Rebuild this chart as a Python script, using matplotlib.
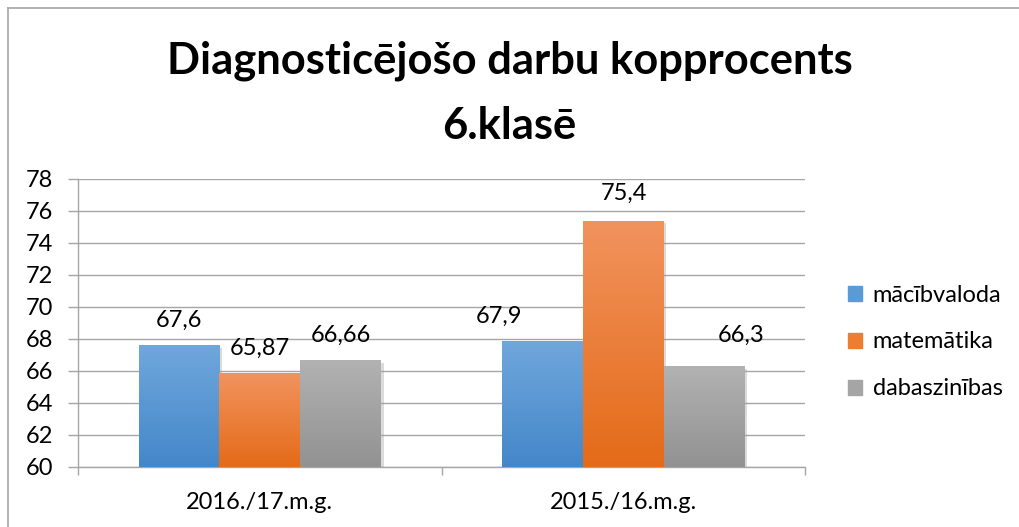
import matplotlib.pyplot as plt
import numpy as np
from matplotlib.lines import Line2D
from matplotlib.patches import Patch
import matplotlib.patheffects as pe

plt.rcParams['font.family'] = ['Lato', 'DejaVu Sans']

# dati
years = ['2016./17.m.g.', '2015./16.m.g.']
subjects = ['mācībvaloda', 'matemātika', 'dabaszinības']
macibvaloda = [67.6, 67.9]
matematika = [65.87, 75.4]
dabaszinibas = [66.66, 66.3]
labels = [['67,6', '67,9'], ['65,87', '75,4'], ['66,66', '66,3']]

# gradient colours (top, bottom)
grads = [('#70a7dc', '#4487c9'), ('#f1935e', '#e46b18'), ('#b2b2b2', '#929292')]
legend_cols = ['#5b9bd5', '#ed7d31', '#a5a5a5']
# label shifts in pixels (dx, dy) - Excel moved some of them
shifts = [[(0, 25), (-43, 24)], [(0, 25), (1, 27)], [(0, 25), (37, 31)]]

fig = plt.figure(figsize=(10.19, 5.27), dpi=100)
ax = fig.add_axes([78 / 1019, 1 - 467 / 527, (805 - 78) / 1019, (467 - 179) / 527])

x = np.arange(len(years))
w = 1 / 4.5
series = [macibvaloda, matematika, dabaszinibas]
grad = np.linspace(1, 0, 256).reshape(-1, 1)

for i, vals in enumerate(series):
    bars = ax.bar(x + (i - 1) * w, vals, w, bottom=0, color=legend_cols[i], label=subjects[i], zorder=3,
                  path_effects=[pe.SimplePatchShadow(offset=(2, -2), shadow_rgbFace='0.6', alpha=0.35), pe.Normal()])
    cmap = plt.matplotlib.colors.LinearSegmentedColormap.from_list('g', [grads[i][1], grads[i][0]])
    for j, b in enumerate(bars):
        x0, x1 = b.get_x(), b.get_x() + b.get_width()
        im = ax.imshow(grad, cmap=cmap, aspect='auto', extent=(x0, x1, 60, vals[j]), zorder=4)
        im.set_clip_path(b)
        ax.annotate(labels[i][j], (b.get_x() + b.get_width() / 2, vals[j]),
                    xytext=shifts[i][j], textcoords='offset pixels',
                    ha='center', va='center', fontsize=17, zorder=5)

ax.set_xlim(-0.5, 1.5)
ax.set_ylim(60, 78)
ax.set_yticks(np.arange(60, 79, 2))
ax.yaxis.grid(True, color='#a6a6a6', linewidth=1.0, zorder=0)
ax.set_axisbelow(True)
ax.set_xticks(x)
ax.set_xticklabels(years)
ax.set_xticks([-0.5, 0.5, 1.5], minor=True)
ax.tick_params(axis='x', which='major', length=0, pad=18, labelsize=17)
ax.tick_params(axis='x', which='minor', length=5.5, color='#a6a6a6', width=1.0)
ax.tick_params(axis='y', length=7, color='#a6a6a6', width=1.0, pad=11, labelsize=17)
for s in ['top', 'right']:
    ax.spines[s].set_visible(False)
for s in ['left', 'bottom']:
    ax.spines[s].set_color('#a6a6a6')
    ax.spines[s].set_linewidth(1.0)

fig.text(0.5, 1 - 93 / 527, 'Diagnosticējošo darbu kopprocents\n6.klasē', ha='center', va='center',
         fontsize=31.3, fontweight='bold', linespacing=1.75)

handles = [Patch(color=c) for c in legend_cols]
fig.legend(handles, subjects, loc='center left', bbox_to_anchor=(848 / 1019, 1 - 342 / 527),
           frameon=False, fontsize=17, handlelength=0.6, handleheight=0.6, handletextpad=0.45,
           labelspacing=1.1, borderpad=0, borderaxespad=0)

# chart border
fig.add_artist(Line2D([8 / 1019, 8 / 1019], [0, 1 - 8 / 527], color='#a6a6a6', lw=1.2))
fig.add_artist(Line2D([8 / 1019, 1], [1 - 8 / 527, 1 - 8 / 527], color='#a6a6a6', lw=1.2))

fig.savefig('out.png', dpi=100)
